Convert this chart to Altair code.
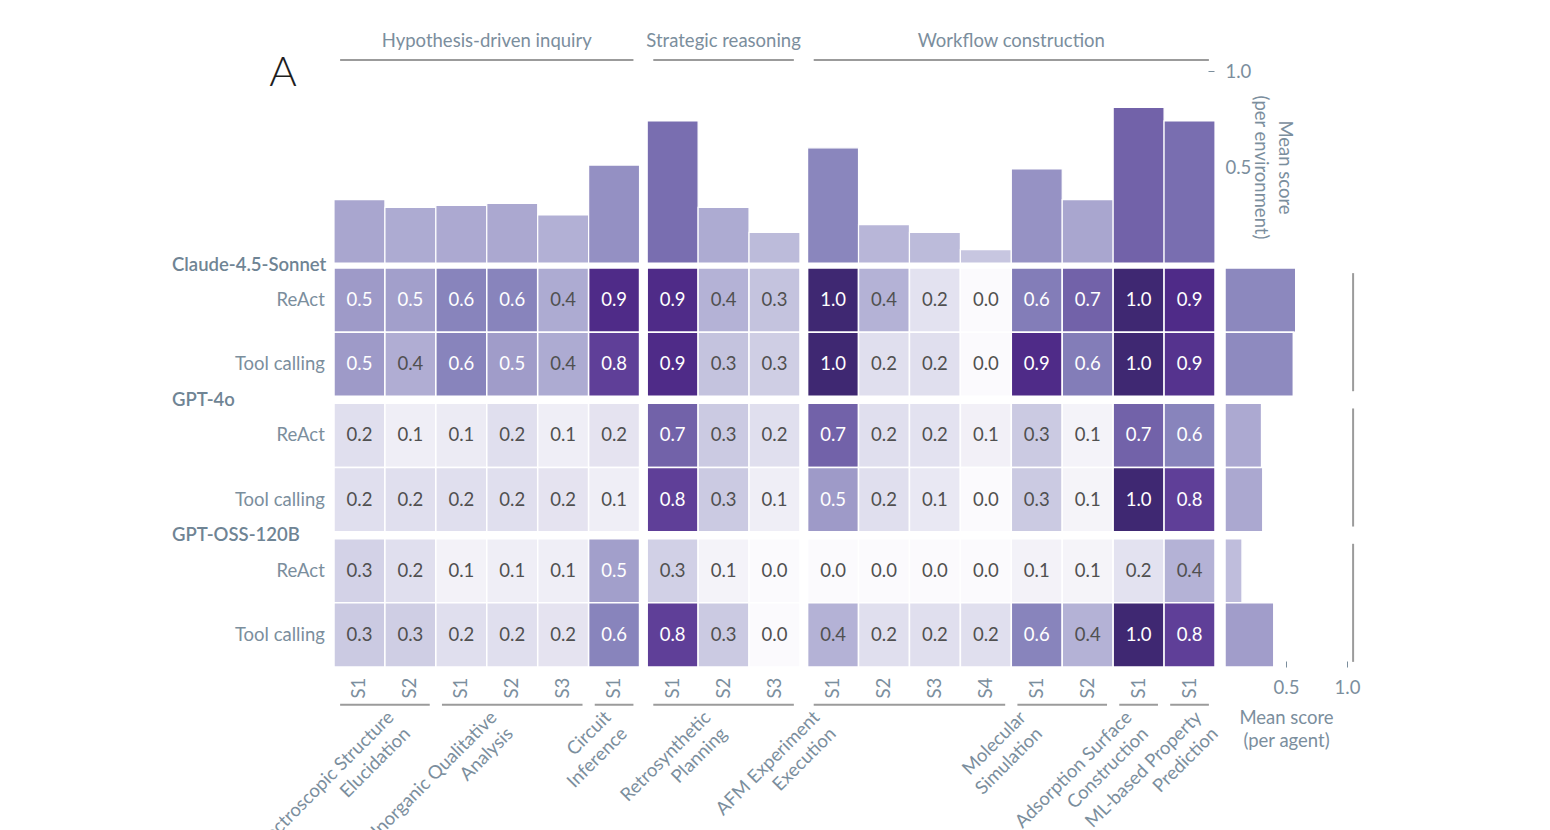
import altair as alt
import pandas as pd

# ------------------------------------------------------------------ data
CATEGORIES = ["Hypothesis-driven inquiry", "Strategic reasoning", "Workflow construction"]
ENVIRONMENTS = [
    "Spectroscopic Structure\nElucidation",
    "Inorganic Qualitative\nAnalysis",
    "Circuit\nInference",
    "Retrosynthetic\nPlanning",
    "AFM Experiment\nExecution",
    "Molecular\nSimulation",
    "Adsorption Surface\nConstruction",
    "ML-based Property\nPrediction",
]
ENV_CATEGORY = [0, 0, 0, 1, 2, 2, 2, 2]
ENV_SCENARIOS = [2, 3, 1, 3, 4, 2, 1, 1]
SCENARIO_LABELS = ["S1", "S2", "S1", "S2", "S3", "S1", "S1", "S2", "S3",
                   "S1", "S2", "S3", "S4", "S1", "S2", "S1", "S1"]

MODELS = ["Claude-4.5-Sonnet", "GPT-4o", "GPT-OSS-120B"]
AGENTS = ["ReAct", "Tool calling"]

CLAUDE_REACT = [0.50, 0.48, 0.60, 0.60, 0.43, 0.90, 0.90, 0.40, 0.33, 1.00, 0.40, 0.18, 0.00, 0.62, 0.70, 1.00, 0.90]
CLAUDE_TOOL = [0.50, 0.42, 0.60, 0.49, 0.43, 0.80, 0.90, 0.33, 0.28, 1.00, 0.20, 0.20, 0.00, 0.90, 0.62, 1.00, 0.86]
GPT4O_REACT = [0.20, 0.10, 0.12, 0.20, 0.10, 0.17, 0.70, 0.30, 0.20, 0.70, 0.20, 0.18, 0.08, 0.30, 0.06, 0.70, 0.60]
GPT4O_TOOL = [0.20, 0.20, 0.20, 0.20, 0.17, 0.10, 0.80, 0.30, 0.10, 0.50, 0.20, 0.14, 0.00, 0.30, 0.05, 1.00, 0.80]
OSS_REACT = [0.26, 0.20, 0.07, 0.10, 0.10, 0.48, 0.27, 0.06, 0.00, 0.00, 0.00, 0.00, 0.00, 0.07, 0.05, 0.18, 0.40]
OSS_TOOL = [0.30, 0.28, 0.20, 0.20, 0.17, 0.60, 0.80, 0.30, 0.00, 0.40, 0.20, 0.20, 0.20, 0.60, 0.40, 1.00, 0.80]
SCORE_ROWS = [CLAUDE_REACT, CLAUDE_TOOL, GPT4O_REACT, GPT4O_TOOL, OSS_REACT, OSS_TOOL]

ENV_MEAN = [0.33, 0.29, 0.30, 0.31, 0.25, 0.51, 0.74, 0.29, 0.16,
            0.60, 0.20, 0.16, 0.07, 0.49, 0.33, 0.81, 0.74]
AGENT_MEAN = [0.58, 0.56, 0.30, 0.31, 0.14, 0.40]

# ------------------------------------------------------------------ style / layout
FONT = "Lato"
FS = 18.5
TXT = "#7b8e9d"
LINE = "#9b9b9b"
COLOR_STOPS = [0.0, 0.1, 0.2, 0.3, 0.4, 0.5, 0.6, 0.7, 0.8, 0.9, 1.0]
COLOR_RANGE = ["#fbfafd", "#efeef6", "#e0dfee", "#cbcae2", "#b4b2d6", "#9e9ac8",
               "#8884bc", "#7262a9", "#5f3f98", "#4f2b88", "#3f2872"]
BAR_T0, BAR_T1 = 0.28, 0.52          # bars use a compressed part of the colormap
BAR_STOPS = [(t - BAR_T0) / BAR_T1 for t in COLOR_STOPS]

COL_GAP = 0.15
ROW_GAP = 0.109
N_COLS = len(SCENARIO_LABELS)
X_TOTAL = N_COLS + (len(CATEGORIES) - 1) * COL_GAP
Y_TOTAL = len(SCORE_ROWS) + (len(MODELS) - 1) * ROW_GAP
W_MAIN, H_TOP, H_HEAT, W_RIGHT = 881, 192, 399, 122
ENV_LABEL_SHIFT = [-0.01, -0.49, -0.25, -0.44, -1.95, -0.9, -0.32, 0.05]

# ------------------------------------------------------------------ tables
col_cat, col_env = [], []
for e, (c, n) in enumerate(zip(ENV_CATEGORY, ENV_SCENARIOS)):
    col_cat += [c] * n
    col_env += [e] * n
col_left = [j + col_cat[j] * COL_GAP for j in range(N_COLS)]

cols_df = pd.DataFrame({
    "x0": col_left,
    "x1": [v + 1 for v in col_left],
    "xc": [v + 0.5 for v in col_left],
    "scen": SCENARIO_LABELS,
    "mean": ENV_MEAN,
})

row_model = [r // 2 for r in range(len(SCORE_ROWS))]
row_top = [r + row_model[r] * ROW_GAP for r in range(len(SCORE_ROWS))]

heat_rows = []
for r, vals in enumerate(SCORE_ROWS):
    for j, v in enumerate(vals):
        heat_rows.append({"x0": col_left[j], "x1": col_left[j] + 1, "xc": col_left[j] + 0.5,
                          "y0": row_top[r], "y1": row_top[r] + 1, "yc": row_top[r] + 0.5,
                          "score": v})
heat_df = pd.DataFrame(heat_rows)

rows_df = pd.DataFrame({
    "agent": [AGENTS[r % 2] for r in range(len(SCORE_ROWS))],
    "yc": [t + 0.5 for t in row_top],
    "y0": row_top,
    "y1": [t + 1 for t in row_top],
    "mean": AGENT_MEAN,
})
model_top = [m * (2 + ROW_GAP) for m in range(len(MODELS))]
models_df = pd.DataFrame({
    "model": MODELS,
    "y": [t - ROW_GAP / 2 for t in model_top],
    "b0": [t + 0.08 for t in model_top],
    "b1": [t + 2 - 0.08 for t in model_top],
})

env_rows = []
for e, name in enumerate(ENVIRONMENTS):
    js = [j for j in range(N_COLS) if col_env[j] == e]
    x0, x1 = col_left[js[0]], col_left[js[-1]] + 1
    env_rows.append({"name": name, "x0": x0 + 0.12, "x1": x1 - 0.12,
                     "xa": (x0 + x1) / 2 + ENV_LABEL_SHIFT[e]})
env_df = pd.DataFrame(env_rows)

cat_rows = []
for c, name in enumerate(CATEGORIES):
    js = [j for j in range(N_COLS) if col_cat[j] == c]
    x0, x1 = col_left[js[0]], col_left[js[-1]] + 1
    cat_rows.append({"name": name, "x0": x0 + 0.12, "x1": x1 - 0.12, "xc": (x0 + x1) / 2})
cat_df = pd.DataFrame(cat_rows)

# ------------------------------------------------------------------ scales
xs = alt.Scale(domain=[0, X_TOTAL], nice=False, zero=False)
ys_top = alt.Scale(domain=[0, 1], nice=False, zero=False)
ys_heat = alt.Scale(domain=[0, Y_TOTAL], nice=False, zero=False, reverse=True)
xs_right = alt.Scale(domain=[0, 1], nice=False, zero=False)

# ------------------------------------------------------------------ top panel
top_bars = alt.Chart(cols_df).mark_rect(stroke="white", strokeWidth=1.2).encode(
    x=alt.X("x0:Q", scale=xs, axis=None),
    x2="x1:Q",
    y=alt.Y("mean:Q", scale=ys_top, axis=alt.Axis(
        orient="right", values=[0.5, 1.0], format=".1f", grid=False, domain=False,
        tickSize=6, offset=-7, labelPadding=11, tickColor=TXT, labelBaseline="middle",
        title=["Mean score", "(per environment)"], titlePadding=0, titleLineHeight=24)),
    y2=alt.Y2Datum(0),
    color=alt.Color("mean:Q", scale=alt.Scale(domain=BAR_STOPS, range=COLOR_RANGE), legend=None),
)
cat_text = alt.Chart(cat_df).mark_text(font=FONT, fontSize=FS, color=TXT, baseline="middle").encode(
    x=alt.X("xc:Q", scale=xs, axis=None),
    y=alt.Y(datum=1.156, scale=ys_top),
    text="name:N",
)
cat_rule = alt.Chart(cat_df).mark_rule(color=LINE, strokeWidth=2).encode(
    x=alt.X("x0:Q", scale=xs, axis=None),
    x2="x1:Q",
    y=alt.Y(datum=1.057, scale=ys_top),
)
panel_letter = alt.Chart(pd.DataFrame({"t": ["A"]})).mark_text(
    font=FONT, fontSize=42, fontWeight=300, color="#1e1e1e", baseline="middle").encode(
    x=alt.X(datum=-1.0, scale=xs, axis=None),
    y=alt.Y(datum=0.99, scale=ys_top),
    text="t:N",
)
top = alt.layer(top_bars, cat_rule, cat_text, panel_letter).properties(width=W_MAIN, height=H_TOP)

# ------------------------------------------------------------------ heatmap
cells = alt.Chart(heat_df).mark_rect(stroke="white", strokeWidth=1.5).encode(
    x=alt.X("x0:Q", scale=xs, axis=None),
    x2="x1:Q",
    y=alt.Y("y0:Q", scale=ys_heat, axis=None),
    y2="y1:Q",
    color=alt.Color("score:Q", scale=alt.Scale(domain=COLOR_STOPS, range=COLOR_RANGE), legend=None),
)
cell_text = alt.Chart(heat_df).mark_text(font=FONT, fontSize=FS, baseline="middle").encode(
    x=alt.X("xc:Q", scale=xs, axis=None),
    y=alt.Y("yc:Q", scale=ys_heat, axis=None),
    text=alt.Text("score:Q", format=".1f"),
    color=alt.condition(alt.datum.score >= 0.45, alt.value("white"), alt.value("#505050")),
)
row_text = alt.Chart(rows_df).mark_text(font=FONT, fontSize=FS, color=TXT, align="right",
                                        baseline="middle").encode(
    x=alt.X(datum=-0.18, scale=xs, axis=None),
    y=alt.Y("yc:Q", scale=ys_heat, axis=None),
    text="agent:N",
)
model_text = alt.Chart(models_df).mark_text(font=FONT, fontSize=FS, fontWeight=600, color="#6f8494",
                                            align="left", baseline="middle").encode(
    x=alt.X(datum=-3.18, scale=xs, axis=None),
    y=alt.Y("y:Q", scale=ys_heat, axis=None),
    text="model:N",
)
scen_text = alt.Chart(cols_df).mark_text(font=FONT, fontSize=FS, color=TXT, angle=270,
                                         align="center", baseline="middle").encode(
    x=alt.X("xc:Q", scale=xs, axis=None),
    y=alt.Y(datum=Y_TOTAL + 0.33, scale=ys_heat, axis=None),
    text="scen:N",
)
env_rule = alt.Chart(env_df).mark_rule(color=LINE, strokeWidth=2).encode(
    x=alt.X("x0:Q", scale=xs, axis=None),
    x2="x1:Q",
    y=alt.Y(datum=Y_TOTAL + 0.59, scale=ys_heat, axis=None),
)
env_text = alt.Chart(env_df).mark_text(font=FONT, fontSize=FS, color=TXT, angle=315, align="right",
                                       baseline="top", lineBreak="\n", lineHeight=23).encode(
    x=alt.X("xa:Q", scale=xs, axis=None),
    y=alt.Y(datum=Y_TOTAL + 0.64, scale=ys_heat, axis=None),
    text="name:N",
)
heat = alt.layer(cells, cell_text, row_text, model_text, scen_text, env_rule, env_text).properties(
    width=W_MAIN, height=H_HEAT)

# ------------------------------------------------------------------ right panel
right_bars = alt.Chart(rows_df).mark_rect(stroke="white", strokeWidth=1.5).encode(
    x=alt.X("mean:Q", scale=xs_right, axis=alt.Axis(
        orient="bottom", values=[0.5, 1.0], format=".1f", grid=False, domain=False,
        tickSize=6, offset=-6, labelPadding=11, tickColor=TXT, labelFlush=False,
        title=["Mean score", "(per agent)"], titlePadding=12, titleLineHeight=23)),
    x2=alt.X2Datum(0),
    y=alt.Y("y0:Q", scale=ys_heat, axis=None),
    y2="y1:Q",
    color=alt.Color("mean:Q", scale=alt.Scale(domain=BAR_STOPS, range=COLOR_RANGE), legend=None),
)
brackets = alt.Chart(models_df).mark_rule(color=LINE, strokeWidth=2).encode(
    x=alt.X(datum=1.05, scale=xs_right),
    y=alt.Y("b0:Q", scale=ys_heat, axis=None),
    y2="b1:Q",
)
right = alt.layer(right_bars, brackets).properties(width=W_RIGHT, height=H_HEAT)

# ------------------------------------------------------------------ assemble
bottom = alt.hconcat(heat, right, spacing=10, bounds="flush").resolve_scale(color="independent")
chart = alt.vconcat(top, bottom, spacing=5, bounds="flush").resolve_scale(
    color="independent"
).properties(
    padding={"left": 164, "top": 24, "right": 10, "bottom": 10}
).configure_view(stroke=None).configure_axis(
    labelFont=FONT, titleFont=FONT, labelColor=TXT, titleColor=TXT,
    labelFontSize=FS, titleFontSize=FS, titleFontWeight="normal",
)

chart.save("out.html", embed_options={"renderer": "svg", "actions": False})
